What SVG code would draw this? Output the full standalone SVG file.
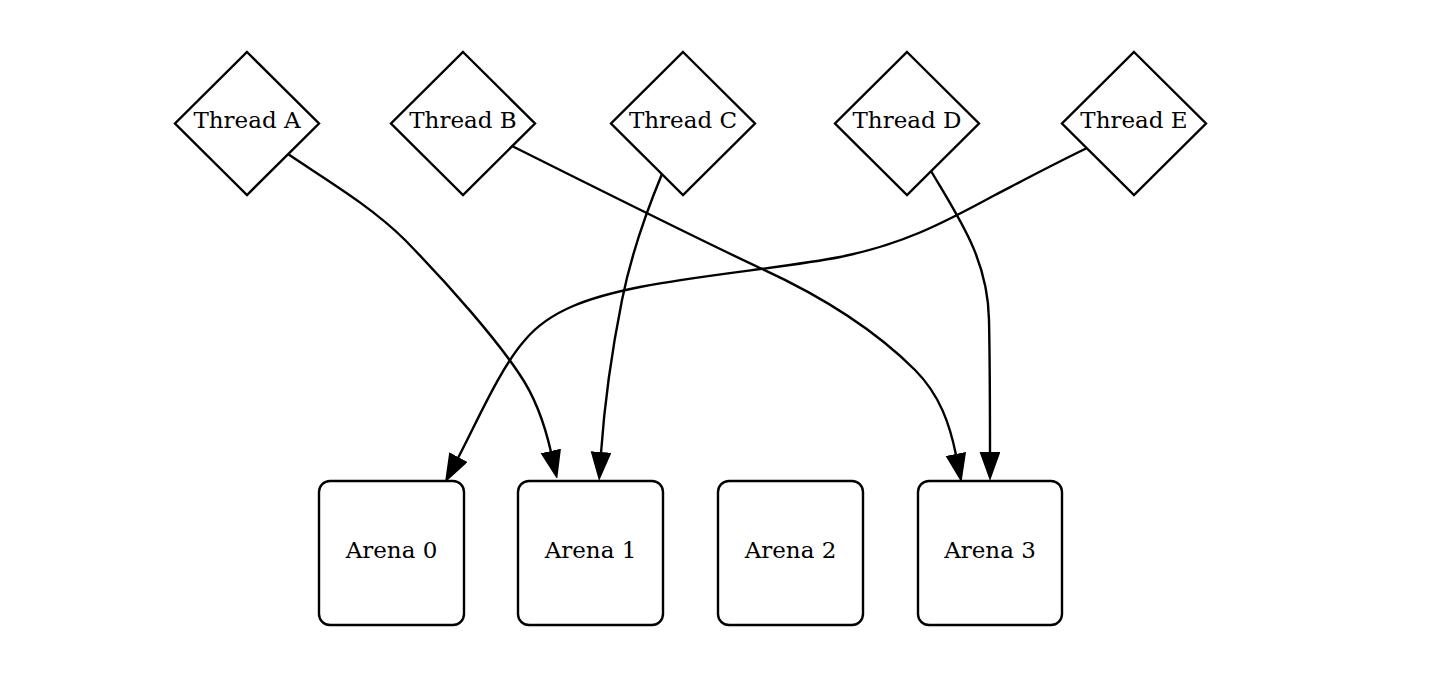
<svg xmlns="http://www.w3.org/2000/svg" width="1438" height="676" viewBox="0 0 1438 676">
<style>
.shape{fill:#fff;stroke:#000;stroke-width:2.4}
.edge{fill:none;stroke:#000;stroke-width:2.4}
text{font-family:"DejaVu Serif","Liberation Serif",serif;font-size:23px;fill:#000;text-anchor:middle}
</style>
<defs>
<marker id="arr" markerUnits="userSpaceOnUse" markerWidth="28" markerHeight="22" refX="1" refY="10" orient="auto" viewBox="0 0 28 22">
<path d="M1,1 L26,10 L1,19 Z" fill="#000" stroke="#000" stroke-width="2"/>
</marker>
</defs>
<rect width="1438" height="676" fill="#fff"/>
<g id="edges">
<path class="edge" marker-end="url(#arr)" d="M288,154 C320,176 370,205 405,240 C450,286 497,340 520,375 C537,400 546,430 551,452"/>
<path class="edge" marker-end="url(#arr)" d="M662,174 C645,215 630,260 622,300 C610,360 604,410 601,453"/>
<path class="edge" marker-end="url(#arr)" d="M512,146 C590,185 700,240 760,268 C830,300 880,335 915,370 C940,395 950,425 956,455"/>
<path class="edge" marker-end="url(#arr)" d="M931,171 C960,220 988,260 989,320 C990,370 990,420 990,453"/>
<path class="edge" marker-end="url(#arr)" d="M1087,148 C1050,166 1020,182 995,195 C940,225 900,245 840,257 C790,267 700,275 640,287 C590,297 550,310 525,340 C500,368 476,424 458,458"/>
</g>
<g id="threadA"><polygon class="shape" points="247,52 319,123.5 247,195 175,123.5"/><text x="247" y="128">Thread A</text></g>
<g id="threadB"><polygon class="shape" points="463,52 535,123.5 463,195 391,123.5"/><text x="463" y="128">Thread B</text></g>
<g id="threadC"><polygon class="shape" points="683,52 755,123.5 683,195 611,123.5"/><text x="683" y="128">Thread C</text></g>
<g id="threadD"><polygon class="shape" points="907,52 979,123.5 907,195 835,123.5"/><text x="907" y="128">Thread D</text></g>
<g id="threadE"><polygon class="shape" points="1134,52 1206,123.5 1134,195 1062,123.5"/><text x="1134" y="128">Thread E</text></g>
<g id="arena0"><rect class="shape" x="319" y="481" width="145" height="144" rx="11"/><text x="391.5" y="558">Arena 0</text></g>
<g id="arena1"><rect class="shape" x="518" y="481" width="145" height="144" rx="11"/><text x="590.5" y="558">Arena 1</text></g>
<g id="arena2"><rect class="shape" x="718" y="481" width="145" height="144" rx="11"/><text x="790.5" y="558">Arena 2</text></g>
<g id="arena3"><rect class="shape" x="918" y="481" width="144" height="144" rx="11"/><text x="990" y="558">Arena 3</text></g>
</svg>
